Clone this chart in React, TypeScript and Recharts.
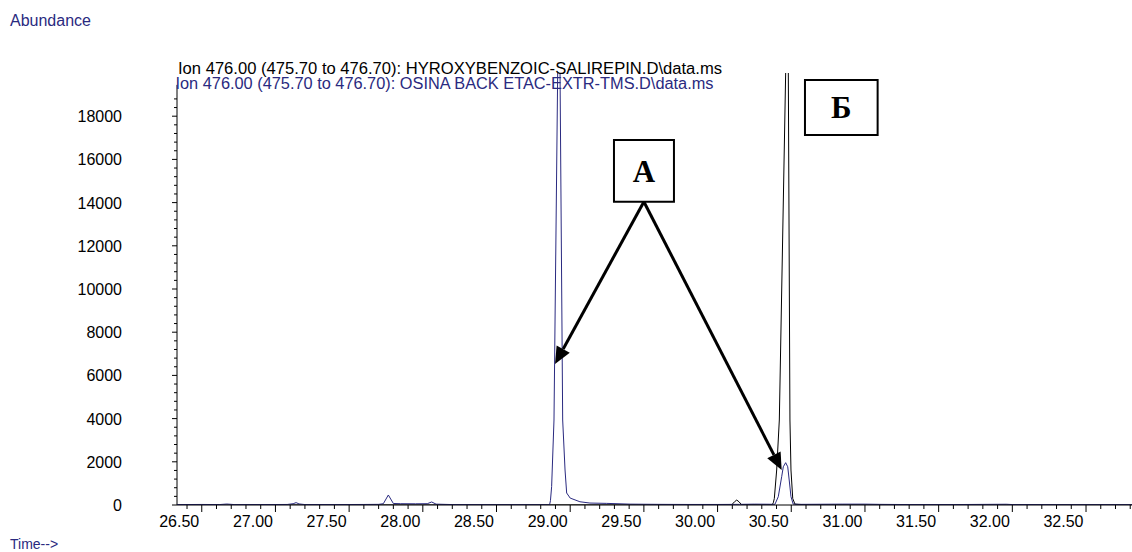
import { LineChart, Line, XAxis, YAxis, ReferenceLine, ReferenceArea } from "recharts";

// retention time (min) / abundance
const sampleTimes = [
  26.332, 26.5, 26.62, 26.67, 26.72, 26.9, 27.08, 27.12, 27.14, 27.16, 27.2, 27.4, 27.6, 27.7,
  27.732, 27.766, 27.8, 27.85, 27.95, 28.03, 28.06, 28.09, 28.2, 28.5, 28.8, 28.86, 28.866,
  28.874, 28.89, 28.915, 28.924, 28.931, 28.949, 28.965, 28.976, 29.0, 29.066, 29.134, 29.248,
  29.406, 29.6, 29.8, 30.0, 30.15, 30.25, 30.35, 30.389, 30.412, 30.435, 30.446, 30.462, 30.476,
  30.486, 30.498, 30.513, 30.55, 30.7, 30.85, 31.0, 31.1, 31.3, 31.6, 31.96, 32.0, 32.3, 32.812,
];
const sampleAbundance = [
  20, 25, 20, 45, 20, 20, 25, 60, 110, 50, 20, 20, 25, 30,
  60, 463, 70, 60, 55, 60, 140, 40, 20, 15, 15, 10, 200,
  850, 3935, 20000, 22500, 20000, 3935, 1620, 555, 320, 150, 90, 75,
  40, 30, 25, 25, 30, 40, 35, 30, 385, 1310, 1770, 1960, 1770,
  1157, 385, 40, 30, 35, 40, 40, 30, 20, 20, 35, 20, 15, 15,
];

const standardTimes = [
  26.332, 27.0, 28.0, 29.0, 30.0, 30.096, 30.115, 30.13, 30.145, 30.163, 30.3, 30.37, 30.378,
  30.385, 30.401, 30.419, 30.462, 30.471, 30.48, 30.491, 30.498, 30.51, 30.525, 30.6, 31.5, 32.812,
];
const standardAbundance = [
  0, 5, 5, 5, 10, 10, 150, 230, 150, 15, 10, 10, 100,
  300, 1620, 3935, 20000, 22000, 20000, 3935, 1620, 300, 40, 10, 5, 5,
];

const xMajorLabels = ["26.50", "27.00", "27.50", "28.00", "28.50", "29.00", "29.50", "30.00", "30.50", "31.00", "31.50", "32.00", "32.50"];
const yMajorLabels = [0, 2000, 4000, 6000, 8000, 10000, 12000, 14000, 16000, 18000];

const traceNames = [
  "Ion 476.00 (475.70 to 476.70): HYROXYBENZOIC-SALIREPIN.D\\data.ms",
  "Ion 476.00 (475.70 to 476.70): OSINA BACK ETAC-EXTR-TMS.D\\data.ms",
];

const boxes = [
  { label: "А", x1: 29.297, x2: 29.704, y1: 14042, y2: 16898 },
  { label: "Б", x1: 30.593, x2: 31.086, y1: 17130, y2: 19676 },
];
const arrowFrom = { x: 29.5, y: 14042 };
const arrowTips = [
  { x: 28.897, y: 6528 },
  { x: 30.435, y: 1620 },
];

const BLUE = "#2a2a80";
const FONT = "'Liberation Sans', Arial, sans-serif";

const sampleData = sampleTimes.map((t, i) => ({ t, v: sampleAbundance[i] }));
const standardData = standardTimes.map((t, i) => ({ t, v: standardAbundance[i] }));

const xTicks: number[] = [];
for (let k = 264; k <= 328; k++) xTicks.push(k / 10);
const yTicks: number[] = [];
for (let k = 0; k <= 47; k++) yTicks.push(k * 400);

const XTick = (props: any) => {
  const { x, y, payload } = props;
  const major = Math.round(payload.value * 10) % 5 === 0;
  const label = xMajorLabels.find((s) => Math.abs(parseFloat(s) - payload.value) < 1e-6);
  return (
    <g>
      <line x1={x} x2={x} y1={y} y2={y + (major ? 7 : 4)} stroke="#000" />
      {label && (
        // the instrument prints each label just left of its major tick
        <text x={x - 2.5} y={y + 22} textAnchor="end" fontSize={16} fontFamily={FONT} fill="#000">
          {label}
        </text>
      )}
    </g>
  );
};

const YTick = (props: any) => {
  const { x, y, payload } = props;
  const major = yMajorLabels.includes(payload.value);
  return (
    <g>
      <line x1={x} x2={x - (major ? 5 : 3)} y1={y} y2={y} stroke="#000" />
      {major && (
        <text x={x - 55} y={y + 6} textAnchor="end" fontSize={16} fontFamily={FONT} fill="#000">
          {payload.value}
        </text>
      )}
    </g>
  );
};

const Arrow = (p: any) => {
  const { x1, y1, x2, y2 } = p;
  const len = Math.hypot(x2 - x1, y2 - y1);
  const ux = (x2 - x1) / len;
  const uy = (y2 - y1) / len;
  const bx = x2 - ux * 17;
  const by = y2 - uy * 17;
  return (
    <g>
      <line x1={x1} y1={y1} x2={bx} y2={by} stroke="#000" strokeWidth={3} />
      <polygon
        points={`${x2},${y2} ${bx - uy * 7.5},${by + ux * 7.5} ${bx + uy * 7.5},${by - ux * 7.5}`}
        fill="#000"
      />
    </g>
  );
};

const boxLabel = (text: string) => (props: any) => {
  const { x, y, width, height } = props.viewBox;
  return (
    <text
      x={x + width / 2}
      y={y + height / 2 + 11}
      textAnchor="middle"
      fontSize={31}
      fontWeight={700}
      fontFamily="'Liberation Serif', 'Times New Roman', serif"
      fill="#000"
    >
      {text}
    </text>
  );
};

export default function App() {
  return (
    <div style={{ position: "absolute", left: 0, top: 0, width: 1132, height: 552, background: "#fff" }}>
      <LineChart width={1132} height={552} margin={{ top: 73, right: 0, bottom: 0, left: 117 }}>
        <XAxis
          type="number"
          dataKey="t"
          domain={[26.332, 32.812]}
          allowDataOverflow
          ticks={xTicks}
          interval={0}
          tick={<XTick />}
          tickLine={false}
          tickSize={0}
          tickMargin={0}
          height={47}
          stroke="#000"
        />
        <YAxis
          type="number"
          domain={[0, 20000]}
          allowDataOverflow
          ticks={yTicks}
          interval={0}
          tick={<YTick />}
          tickLine={false}
          axisLine={false}
          tickSize={0}
          tickMargin={0}
          width={60}
        />
        <ReferenceLine
          segment={[{ x: 26.332, y: 0 }, { x: 26.332, y: 19450 }]}
          stroke="#000"
          ifOverflow="visible"
        />
        <Line data={standardData} dataKey="v" type="linear" stroke="#000" strokeWidth={1} dot={false} isAnimationActive={false} />
        <Line data={sampleData} dataKey="v" type="linear" stroke={BLUE} strokeWidth={1} dot={false} isAnimationActive={false} />
        {arrowTips.map((tip, i) => (
          <ReferenceLine
            key={i}
            segment={[arrowFrom, tip]}
            stroke="#000"
            ifOverflow="visible"
            shape={Arrow}
          />
        ))}
        {boxes.map((b) => (
          <ReferenceArea
            key={b.label}
            x1={b.x1}
            x2={b.x2}
            y1={b.y1}
            y2={b.y2}
            fill="#fff"
            fillOpacity={1}
            stroke="#000"
            strokeWidth={2}
            ifOverflow="visible"
            label={boxLabel(b.label)}
          />
        ))}
      </LineChart>
      <svg width={1132} height={552} style={{ position: "absolute", left: 0, top: 0, pointerEvents: "none" }}>
        <text x={10} y={26} fontSize={16} fontFamily={FONT} fill={BLUE}>Abundance</text>
        <text x={178} y={74} fontSize={16} fontFamily={FONT} fill="#000" textLength={544} lengthAdjust="spacingAndGlyphs">
          {traceNames[0]}
        </text>
        <text x={175.5} y={89} fontSize={16} fontFamily={FONT} fill={BLUE} textLength={538} lengthAdjust="spacingAndGlyphs">
          {traceNames[1]}
        </text>
        <text x={10} y={549} fontSize={14} fontFamily={FONT} fill={BLUE}>Time--&gt;</text>
      </svg>
    </div>
  );
}
